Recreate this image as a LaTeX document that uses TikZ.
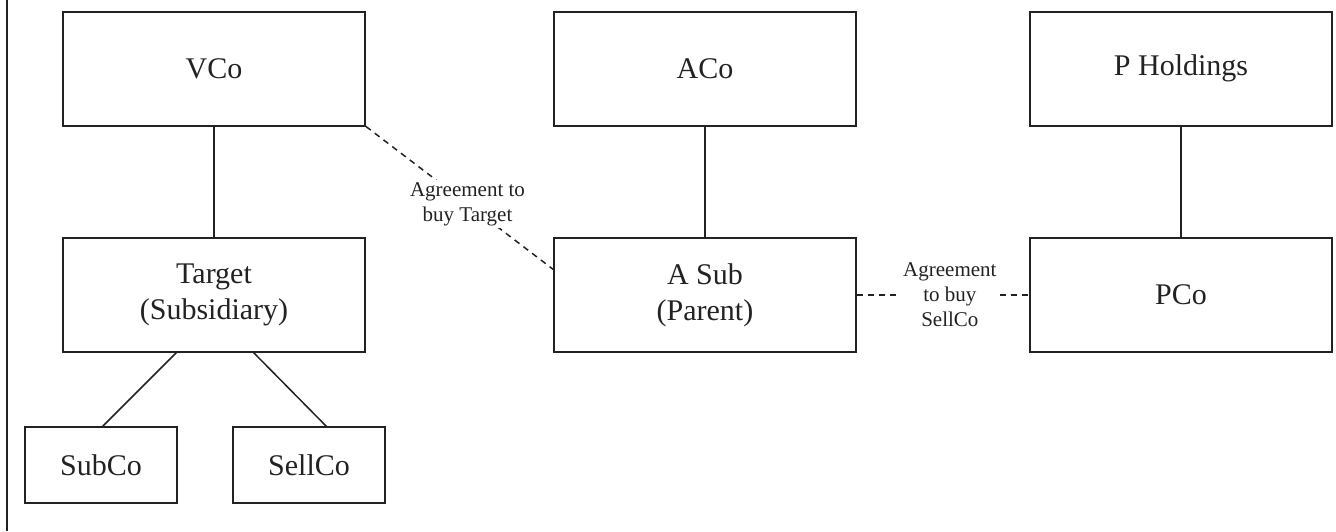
\documentclass[tikz,border=0pt]{standalone}
\usepackage{fontspec}
\setmainfont{Liberation Serif}
\usetikzlibrary{calc}
\definecolor{ink}{HTML}{222222}
\tikzset{
  entity/.style={draw=ink, line width=2pt, minimum width=302pt, minimum height=114pt, inner sep=0pt, text=ink, align=center, font=\fontsize{30}{36}\selectfont},
  small/.style={draw=ink, line width=2pt, minimum width=152pt, minimum height=76pt, inner sep=0pt, text=ink, align=center, font=\fontsize{30}{36}\selectfont},
  link/.style={draw=ink, line width=1.5pt},
  agree/.style={draw=ink, line width=1.5pt, dash pattern=on 6pt off 5pt},
  agreelabel/.style={fill=white, text=ink, align=center, inner sep=2pt, font=\fontsize{21}{25}\selectfont},
}
\begin{document}
\begin{tikzpicture}[x=1pt,y=-1pt]
\useasboundingbox (0,0) rectangle (1336,531);
\draw[ink, line width=1.3pt] (7,0) -- (7,531);

\node[entity] (vco) at (214,68.5) {VCo};
\node[entity] (aco) at (705,68.5) {ACo};
\node[entity] (ph) at (1181,68.5) {P Holdings};
\node[entity] (target) at (214,295) {Target\\(Subsidiary)};
\node[entity] (asub) at (705,295) {A Sub\\(Parent)};
\node[entity] (pco) at (1181,295) {PCo};
\node[small] (subco) at (101,465) {SubCo};
\node[small] (sellco) at (309,465) {SellCo};

\draw[link] (vco) -- (target);
\draw[link] (aco) -- (asub);
\draw[link] (ph) -- (pco);

\coordinate (tl) at (177,352);
\coordinate (tr) at (253,352);
\coordinate (sl) at (102,427);
\coordinate (sr) at (327,427);
\draw[link] (tl) -- (sl);
\draw[link] (tr) -- (sr);

\coordinate (asubin) at (554,270);
\draw[agree] (vco.south east) -- node[agreelabel, pos=0.54] (la) {Agreement to\\buy Target} (asubin);
\draw[agree] (asub.east) -- node[agreelabel, pos=0.54] (lb) {Agreement\\to buy\\SellCo} (pco.west);
\end{tikzpicture}
\end{document}
